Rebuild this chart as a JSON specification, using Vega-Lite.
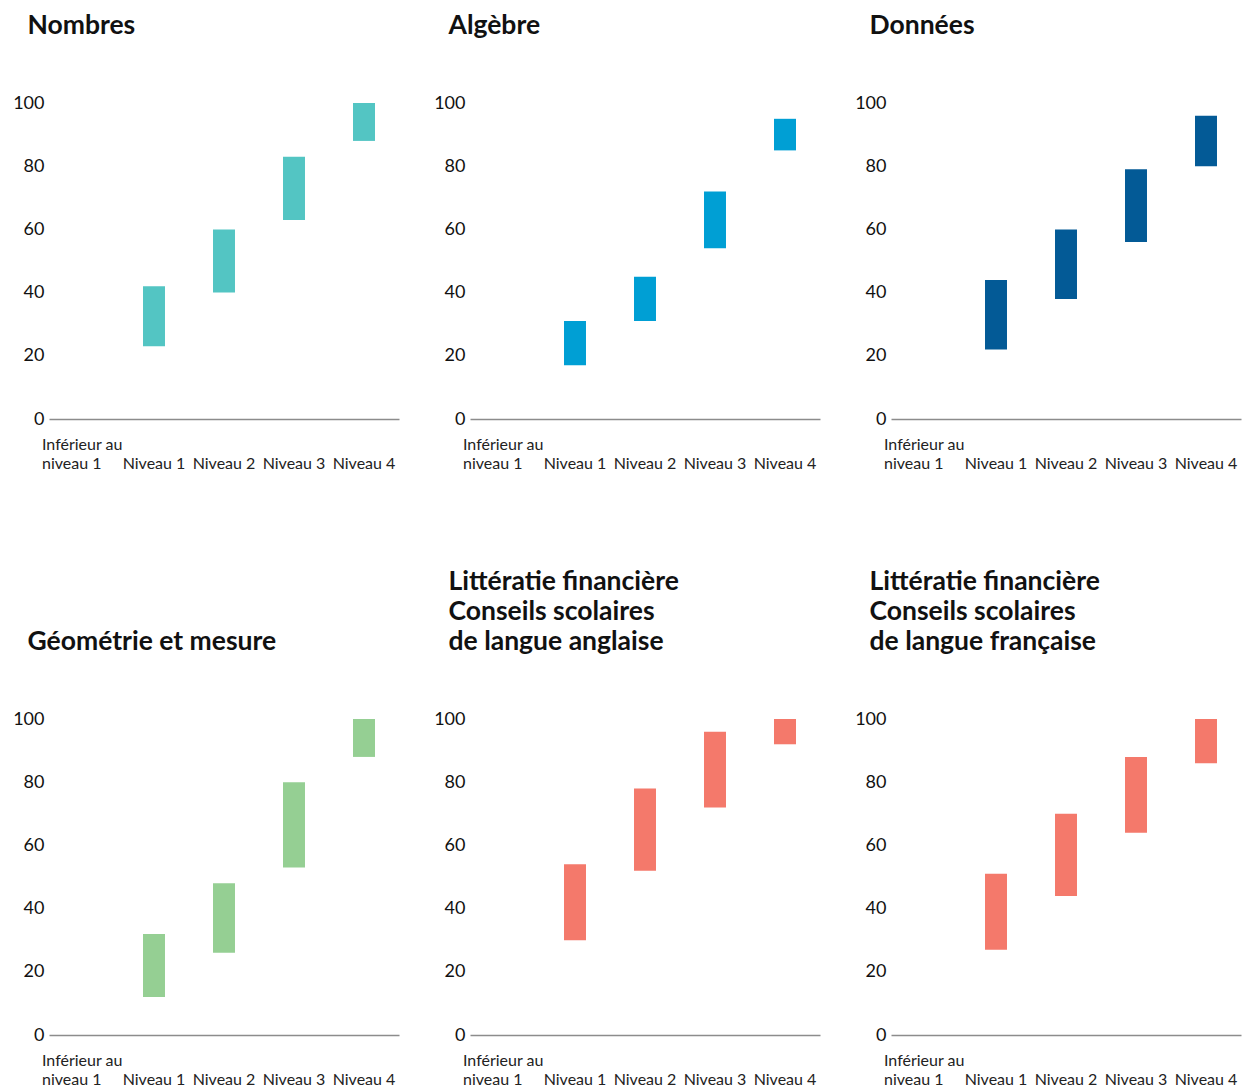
{
  "$schema": "https://vega.github.io/schema/vega-lite/v6.json",
  "background": "white",
  "padding": {"left": 12, "top": 12, "right": 5, "bottom": 5},
  "config": {
    "font": "Lato",
    "view": {"stroke": null},
    "title": {"anchor": "start", "frame": "group", "dx": -21.5, "fontSize": 26.5, "fontWeight": "bold", "color": "#111111", "lineHeight": 30, "offset": 55},
    "bar": {"stroke": null},
    "axisX": {"title": null, "labelAngle": 0, "ticks": false, "tickSize": 0, "domainColor": "#8c8c8c", "domainWidth": 1.5, "labelFontSize": 16, "labelColor": "#222222", "labelBaseline": "top", "labelLineHeight": 19, "labelPadding": 17,
      "labelAlign": {"condition": {"test": "datum.value === 'Inférieur au niveau 1'", "value": "left"}, "value": "center"},
      "labelOffset": {"condition": {"test": "datum.value === 'Inférieur au niveau 1'", "value": -42}, "value": 0}},
    "axisY": {"title": null, "domain": false, "ticks": false, "tickSize": 0, "grid": false, "labelFontSize": 18, "labelColor": "#111111", "labelPadding": 5}
  },
  "data": {
    "values": [
      {"panel": "Nombres", "niveau": "Niveau 1", "bas": 23, "haut": 42},
      {"panel": "Nombres", "niveau": "Niveau 2", "bas": 40, "haut": 60},
      {"panel": "Nombres", "niveau": "Niveau 3", "bas": 63, "haut": 83},
      {"panel": "Nombres", "niveau": "Niveau 4", "bas": 88, "haut": 100},
      {"panel": "Algèbre", "niveau": "Niveau 1", "bas": 17, "haut": 31},
      {"panel": "Algèbre", "niveau": "Niveau 2", "bas": 31, "haut": 45},
      {"panel": "Algèbre", "niveau": "Niveau 3", "bas": 54, "haut": 72},
      {"panel": "Algèbre", "niveau": "Niveau 4", "bas": 85, "haut": 95},
      {"panel": "Données", "niveau": "Niveau 1", "bas": 22, "haut": 44},
      {"panel": "Données", "niveau": "Niveau 2", "bas": 38, "haut": 60},
      {"panel": "Données", "niveau": "Niveau 3", "bas": 56, "haut": 79},
      {"panel": "Données", "niveau": "Niveau 4", "bas": 80, "haut": 96},
      {"panel": "Géométrie", "niveau": "Niveau 1", "bas": 12, "haut": 32},
      {"panel": "Géométrie", "niveau": "Niveau 2", "bas": 26, "haut": 48},
      {"panel": "Géométrie", "niveau": "Niveau 3", "bas": 53, "haut": 80},
      {"panel": "Géométrie", "niveau": "Niveau 4", "bas": 88, "haut": 100},
      {"panel": "FinAng", "niveau": "Niveau 1", "bas": 30, "haut": 54},
      {"panel": "FinAng", "niveau": "Niveau 2", "bas": 52, "haut": 78},
      {"panel": "FinAng", "niveau": "Niveau 3", "bas": 72, "haut": 96},
      {"panel": "FinAng", "niveau": "Niveau 4", "bas": 92, "haut": 100},
      {"panel": "FinFra", "niveau": "Niveau 1", "bas": 27, "haut": 51},
      {"panel": "FinFra", "niveau": "Niveau 2", "bas": 44, "haut": 70},
      {"panel": "FinFra", "niveau": "Niveau 3", "bas": 64, "haut": 88},
      {"panel": "FinFra", "niveau": "Niveau 4", "bas": 86, "haut": 100}
    ]
  },
  "columns": 3,
  "bounds": "flush",
  "spacing": {"row": 300, "column": 71},
  "concat": [
    {
      "title": {"text": "Nombres"},
      "width": 350, "height": 316,
      "transform": [{"filter": "datum.panel === 'Nombres'"}],
      "mark": {"type": "bar", "color": "#53C5C3"},
      "encoding": {
        "x": {"field": "niveau", "type": "nominal", "sort": null,
          "scale": {"domain": ["Inférieur au niveau 1", "Niveau 1", "Niveau 2", "Niveau 3", "Niveau 4"], "paddingInner": 0.686, "paddingOuter": 0.343},
          "axis": {"labelExpr": "datum.label === 'Inférieur au niveau 1' ? ['Inférieur au', 'niveau 1'] : ['', datum.label]"}},
        "y": {"field": "bas", "type": "quantitative", "scale": {"domain": [0, 100]}, "axis": {"values": [0, 20, 40, 60, 80, 100]}},
        "y2": {"field": "haut"}
      }
    },
    {
      "title": {"text": "Algèbre"},
      "width": 350, "height": 316,
      "transform": [{"filter": "datum.panel === 'Algèbre'"}],
      "mark": {"type": "bar", "color": "#009FD4"},
      "encoding": {
        "x": {"field": "niveau", "type": "nominal", "sort": null,
          "scale": {"domain": ["Inférieur au niveau 1", "Niveau 1", "Niveau 2", "Niveau 3", "Niveau 4"], "paddingInner": 0.686, "paddingOuter": 0.343},
          "axis": {"labelExpr": "datum.label === 'Inférieur au niveau 1' ? ['Inférieur au', 'niveau 1'] : ['', datum.label]"}},
        "y": {"field": "bas", "type": "quantitative", "scale": {"domain": [0, 100]}, "axis": {"values": [0, 20, 40, 60, 80, 100]}},
        "y2": {"field": "haut"}
      }
    },
    {
      "title": {"text": "Données"},
      "width": 350, "height": 316,
      "transform": [{"filter": "datum.panel === 'Données'"}],
      "mark": {"type": "bar", "color": "#035A96"},
      "encoding": {
        "x": {"field": "niveau", "type": "nominal", "sort": null,
          "scale": {"domain": ["Inférieur au niveau 1", "Niveau 1", "Niveau 2", "Niveau 3", "Niveau 4"], "paddingInner": 0.686, "paddingOuter": 0.343},
          "axis": {"labelExpr": "datum.label === 'Inférieur au niveau 1' ? ['Inférieur au', 'niveau 1'] : ['', datum.label]"}},
        "y": {"field": "bas", "type": "quantitative", "scale": {"domain": [0, 100]}, "axis": {"values": [0, 20, 40, 60, 80, 100]}},
        "y2": {"field": "haut"}
      }
    },
    {
      "title": {"text": "Géométrie et mesure"},
      "width": 350, "height": 316,
      "transform": [{"filter": "datum.panel === 'Géométrie'"}],
      "mark": {"type": "bar", "color": "#95CF93"},
      "encoding": {
        "x": {"field": "niveau", "type": "nominal", "sort": null,
          "scale": {"domain": ["Inférieur au niveau 1", "Niveau 1", "Niveau 2", "Niveau 3", "Niveau 4"], "paddingInner": 0.686, "paddingOuter": 0.343},
          "axis": {"labelExpr": "datum.label === 'Inférieur au niveau 1' ? ['Inférieur au', 'niveau 1'] : ['', datum.label]"}},
        "y": {"field": "bas", "type": "quantitative", "scale": {"domain": [0, 100]}, "axis": {"values": [0, 20, 40, 60, 80, 100]}},
        "y2": {"field": "haut"}
      }
    },
    {
      "title": {"text": ["Littératie financière", "Conseils scolaires", "de langue anglaise"]},
      "width": 350, "height": 316,
      "transform": [{"filter": "datum.panel === 'FinAng'"}],
      "mark": {"type": "bar", "color": "#F4796B"},
      "encoding": {
        "x": {"field": "niveau", "type": "nominal", "sort": null,
          "scale": {"domain": ["Inférieur au niveau 1", "Niveau 1", "Niveau 2", "Niveau 3", "Niveau 4"], "paddingInner": 0.686, "paddingOuter": 0.343},
          "axis": {"labelExpr": "datum.label === 'Inférieur au niveau 1' ? ['Inférieur au', 'niveau 1'] : ['', datum.label]"}},
        "y": {"field": "bas", "type": "quantitative", "scale": {"domain": [0, 100]}, "axis": {"values": [0, 20, 40, 60, 80, 100]}},
        "y2": {"field": "haut"}
      }
    },
    {
      "title": {"text": ["Littératie financière", "Conseils scolaires", "de langue française"]},
      "width": 350, "height": 316,
      "transform": [{"filter": "datum.panel === 'FinFra'"}],
      "mark": {"type": "bar", "color": "#F4796B"},
      "encoding": {
        "x": {"field": "niveau", "type": "nominal", "sort": null,
          "scale": {"domain": ["Inférieur au niveau 1", "Niveau 1", "Niveau 2", "Niveau 3", "Niveau 4"], "paddingInner": 0.686, "paddingOuter": 0.343},
          "axis": {"labelExpr": "datum.label === 'Inférieur au niveau 1' ? ['Inférieur au', 'niveau 1'] : ['', datum.label]"}},
        "y": {"field": "bas", "type": "quantitative", "scale": {"domain": [0, 100]}, "axis": {"values": [0, 20, 40, 60, 80, 100]}},
        "y2": {"field": "haut"}
      }
    }
  ]
}
